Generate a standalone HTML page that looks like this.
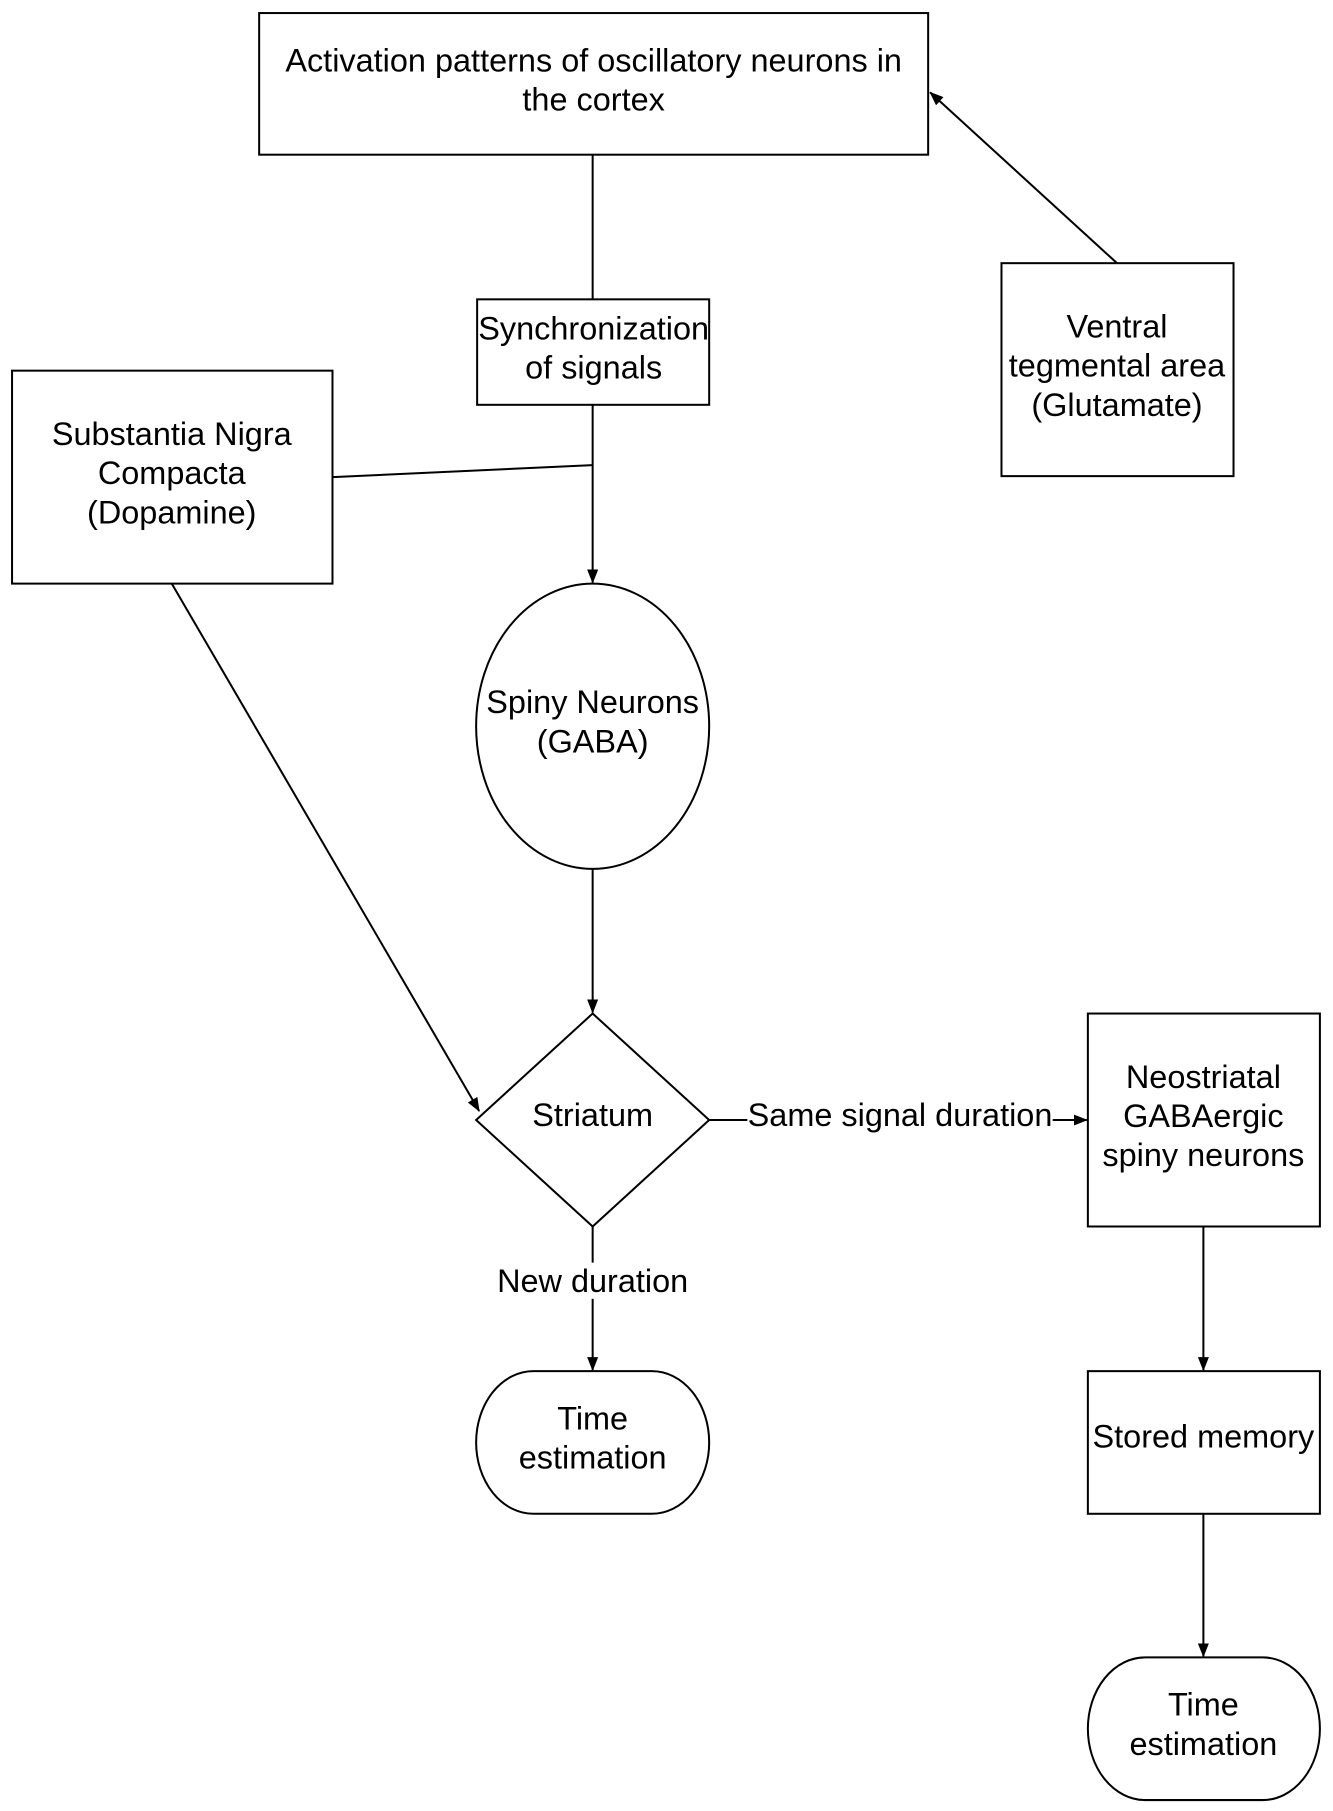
<!DOCTYPE html>
<html><head><meta charset="utf-8"><style>
html,body{margin:0;padding:0;background:#fff;}
svg{display:block;}
text{font-family:"Liberation Sans",sans-serif;font-size:32.3px;fill:#000;text-anchor:middle;}
</style></head><body>
<svg width="1333" height="1811" viewBox="0 0 1333 1811" xmlns="http://www.w3.org/2000/svg">
<defs><marker id="a" markerWidth="14" markerHeight="11" refX="13" refY="5.5" orient="auto" markerUnits="userSpaceOnUse"><path d="M0,0 L14,5.5 L0,11 z" fill="#000"/></marker></defs>
<g transform="translate(1,1) scale(1.0045)">
<g fill="none" stroke="#000" stroke-width="2">
<rect x="257" y="12" width="666" height="141"/>
<rect x="474" y="297" width="231" height="105"/>
<rect x="11" y="368" width="319" height="212"/>
<rect x="996" y="261" width="231" height="212"/>
<ellipse cx="589" cy="722" rx="116" ry="142"/>
<path d="M589,1008 L705,1114 L589,1220 L473,1114 Z"/>
<rect x="1082" y="1008" width="231" height="212"/>
<path d="M530,1364 H648 A57,71 0 0 1 648,1506 H530 A57,71 0 0 1 530,1364 Z"/>
<rect x="1082" y="1364" width="231" height="142"/>
<path d="M1139,1649 H1256 A57,71 0 0 1 1256,1791 H1139 A57,71 0 0 1 1139,1649 Z"/>
<line x1="589" y1="153" x2="589" y2="297"/>
<line x1="1111" y1="261" x2="925" y2="91" marker-end="url(#a)"/>
<line x1="589" y1="402" x2="589" y2="579" marker-end="url(#a)"/>
<line x1="330" y1="474" x2="589" y2="462"/>
<line x1="170" y1="580" x2="476" y2="1105" marker-end="url(#a)"/>
<line x1="589" y1="864" x2="589" y2="1007" marker-end="url(#a)"/>
<line x1="705" y1="1114" x2="1081" y2="1114" marker-end="url(#a)"/>
<line x1="589" y1="1220" x2="589" y2="1363" marker-end="url(#a)"/>
<line x1="1197" y1="1220" x2="1197" y2="1363" marker-end="url(#a)"/>
<line x1="1197" y1="1506" x2="1197" y2="1648" marker-end="url(#a)"/>
</g>
<rect x="743" y="1094" width="304" height="36" fill="#fff"/>
<rect x="488" y="1256" width="202" height="36" fill="#fff"/>
<text x="590" y="70">Activation patterns of oscillatory neurons in</text>
<text x="590" y="109">the cortex</text>
<text x="590" y="337">Synchronization</text>
<text x="590" y="376">of signals</text>
<text x="170" y="442">Substantia Nigra</text>
<text x="170" y="481">Compacta</text>
<text x="170" y="520">(Dopamine)</text>
<text x="1111" y="335">Ventral</text>
<text x="1111" y="374">tegmental area</text>
<text x="1111" y="413">(Glutamate)</text>
<text x="589" y="709">Spiny Neurons</text>
<text x="589" y="748">(GABA)</text>
<text x="589" y="1120">Striatum</text>
<text x="895" y="1120">Same signal duration</text>
<text x="1197" y="1082">Neostriatal</text>
<text x="1197" y="1121">GABAergic</text>
<text x="1197" y="1160">spiny neurons</text>
<text x="589" y="1285">New duration</text>
<text x="589" y="1422">Time</text>
<text x="589" y="1461">estimation</text>
<text x="1197" y="1440">Stored memory</text>
<text x="1197" y="1707">Time</text>
<text x="1197" y="1746">estimation</text>
</g>
</svg>
</body></html>
